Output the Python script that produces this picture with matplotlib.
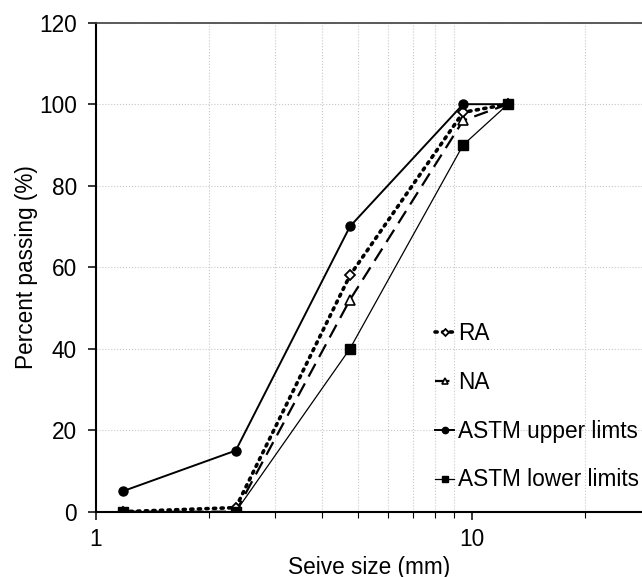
import matplotlib
matplotlib.use("Agg")
import matplotlib.pyplot as plt
from matplotlib.ticker import FixedLocator, NullFormatter, FixedFormatter

plt.rcParams['font.family'] = ['Liberation Sans', 'DejaVu Sans']

# sieve sizes (mm) and percent passing
sieve = [1.18, 2.36, 4.75, 9.5, 12.5]
ra = [0, 1, 58, 98, 100]
na = [0, 0, 52, 96, 100]
upper = [5, 15, 70, 100, 100]
lower = [0, 0, 40, 90, 100]

fs = 16.3

fig = plt.figure(figsize=(6.42, 5.77), dpi=100)
ax = fig.add_axes([0.1488, 0.1132, 0.8512, 0.8475])

ax.plot(sieve, ra, color='black', linestyle=(0, (0.6, 1.5)), dash_capstyle='round',
        lw=2.6, marker='D', ms=5, mfc='white', mec='black', mew=1.3, label='RA', zorder=4)
ax.plot(sieve, na, color='black', linestyle=(0, (6.5, 3.5)), lw=1.6,
        marker='^', ms=7, mfc='white', mec='black', mew=1.2, label='NA', zorder=3)
ax.plot(sieve, upper, color='black', lw=1.4, marker='o', ms=6.5,
        label='ASTM upper limts', zorder=5)
ax.plot(sieve, lower, color='black', lw=0.9, marker='s', ms=6.5,
        label='ASTM lower limits', zorder=5)

ax.set_xscale('log')
ax.set_xlim(1, 28.4)
ax.set_ylim(0, 120)

ax.xaxis.set_major_locator(FixedLocator([1, 10]))
ax.xaxis.set_major_formatter(FixedFormatter(['1', '10']))
ax.xaxis.set_minor_locator(FixedLocator([2, 3, 4, 5, 6, 7, 8, 9, 20]))
ax.xaxis.set_minor_formatter(NullFormatter())
ax.set_yticks([0, 20, 40, 60, 80, 100, 120])

ax.grid(which='minor', axis='x', color='#c8c8c8', linestyle=':', lw=0.8)
ax.grid(which='major', axis='y', color='#c8c8c8', linestyle=':', lw=0.8)

ax.tick_params(axis='y', which='major', direction='out', length=5.5, width=1.1,
               labelsize=fs, pad=8)
ax.tick_params(axis='x', which='major', direction='out', length=6, width=1.1,
               labelsize=fs, pad=6)
ax.tick_params(axis='x', which='minor', direction='out', length=4, width=0.8)

for s in ['left', 'bottom']:
    ax.spines[s].set_linewidth(1.5)
ax.spines['top'].set_linewidth(1.2)
ax.spines['top'].set_color('#404040')
ax.spines['right'].set_visible(False)

ax.set_xlabel('Seive size (mm)', fontsize=fs, labelpad=3)
ax.set_ylabel('Percent passing (%)', fontsize=fs, labelpad=0.5)

leg = ax.legend(loc='upper left', bbox_to_anchor=(435 / 642, 1 - 322 / 577),
                bbox_transform=fig.transFigure, frameon=False, fontsize=fs,
                handlelength=0.85, handletextpad=0.15, labelspacing=1.14,
                borderpad=0, borderaxespad=0, markerscale=0.7)

fig.savefig('out.png', dpi=100)
